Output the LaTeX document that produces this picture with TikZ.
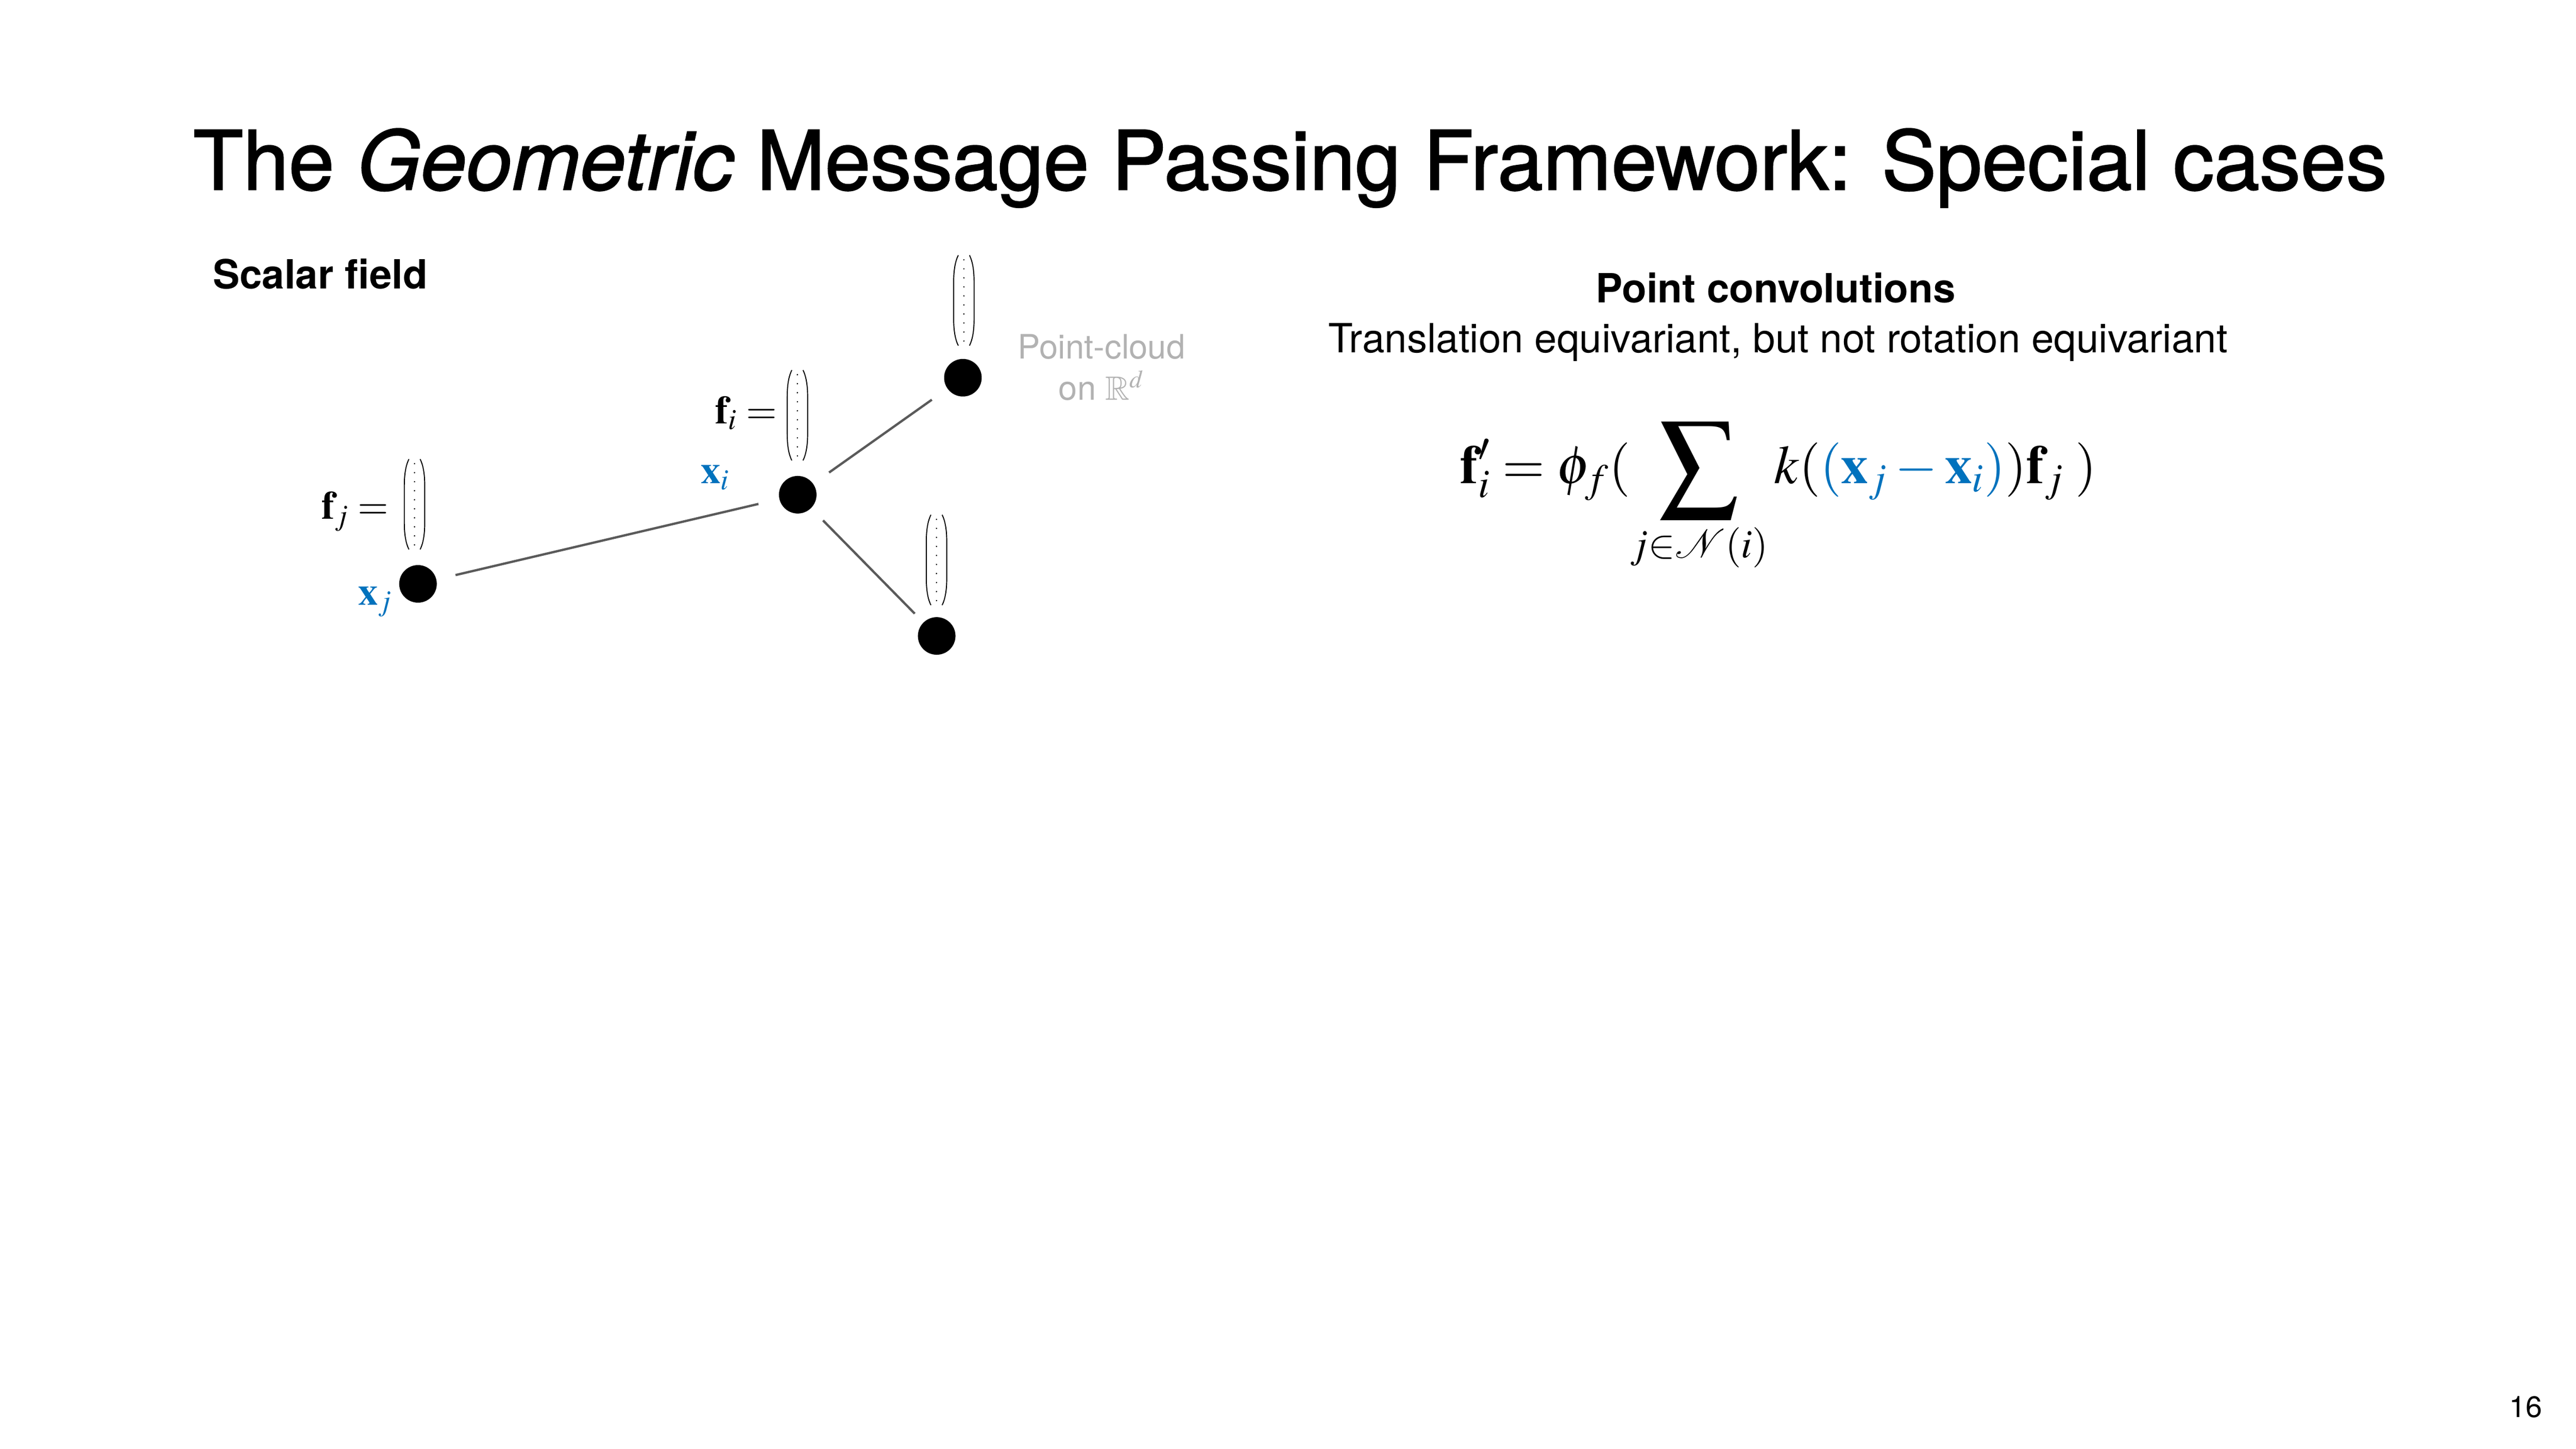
\documentclass[tikz,border=0pt]{standalone}
\usepackage{amssymb}
\usepackage{mathptmx}
\usepackage{graphicx}
\usepackage[no-math]{fontspec}
\setmainfont{TeX Gyre Heros}
\newfontfamily\titlefont{TeX Gyre Heros}[FakeBold=1.5]
\definecolor{xblue}{RGB}{0,114,189}
\definecolor{edgegray}{RGB}{90,90,90}
\definecolor{pcgray}{RGB}{178,178,178}
\newcommand{\fsz}[1]{\fontsize{#1}{#1}\selectfont}
\newcommand{\bigsum}{\mathop{\vcenter{\hbox{\scalebox{1.44}{$\displaystyle\sum$}}}}}
\begin{document}
\begin{tikzpicture}[x=1pt,y=-1pt,
  dotnode/.style={circle,fill=black,minimum size=22.8pt,inner sep=0pt},
  edge/.style={draw=edgegray,line width=1.4pt},
  lbl/.style={inner sep=0pt,font=\fsz{24}},
  vecbox/.pic={
    \draw[line width=0.6pt] (-3.4,-27.4) .. controls (-5.6,-23) and (-6.2,-17) .. (-6.2,-11) -- (-6.2,11) .. controls (-6.2,17) and (-5.6,23) .. (-3.4,27.4);
    \draw[line width=0.6pt] (3.4,-27.4) .. controls (5.6,-23) and (6.2,-17) .. (6.2,-11) -- (6.2,11) .. controls (6.2,17) and (5.6,23) .. (3.4,27.4);
    \foreach \k in {0,...,9} \fill (0,-24.65+\k*5.477) circle (0.45);
  }]
\fill[white] (0,0) rectangle (1562.9,879);
\useasboundingbox (0,0) rectangle (1562.9,879);

% title and headings
\node[anchor=base west,inner sep=0pt,font=\titlefont\fsz{49.7}] (title) at (117,115.1)
  {The \textit{Geometric} Message Passing Framework: Special cases};
\node[anchor=base west,inner sep=0pt,font=\bfseries\fsz{24.4}] (scalar) at (129,175.2) {Scalar field};
\node[anchor=base,inner sep=0pt,font=\bfseries\fsz{24.4}] (pconv) at (1077.3,183.6) {Point convolutions};
\node[anchor=base,inner sep=0pt,font=\fsz{24.4}] (transl) at (1078.7,213.8) {Translation equivariant, but not rotation equivariant};

% graph nodes
\node[dotnode] (nj) at (253.6,354.3) {};
\node[dotnode] (ni) at (484,300.2) {};
\node[dotnode] (nt) at (584.2,229.2) {};
\node[dotnode] (nb) at (568.3,385.9) {};

% edges
\draw[edge,shorten <=11.8pt,shorten >=12.9pt] (nj) -- (ni);
\draw[edge,shorten <=11.7pt,shorten >=11.5pt] (ni) -- (nt);
\draw[edge,shorten <=10.3pt,shorten >=7.4pt] (ni) -- (nb);

% feature vectors
\pic at (251.5,306) {vecbox};
\pic at (483.8,252) {vecbox};
\pic at (584.8,182.3) {vecbox};
\pic at (568.2,339.8) {vecbox};

% labels
\node[lbl,anchor=base east] (fi) at (471.5,257) {$\mathbf{f}_i =$};
\node[lbl,anchor=base east] (fj) at (235.9,315) {$\mathbf{f}_j =$};
\node[lbl,anchor=base west,text=xblue] (xi) at (425,293.5) {$\mathbf{x}_i$};
\node[lbl,anchor=base west,text=xblue] (xj) at (217.1,367.1) {$\mathbf{x}_j$};

\node[anchor=base,inner sep=0pt,font=\fsz{20.4},text=pcgray] (pc1) at (668.3,217.7) {Point-cloud};
\node[anchor=base,inner sep=0pt,font=\fsz{20.4},text=pcgray] (pc2) at (668.3,242.6) {on $\mathbb{R}^d$};

% formula
\node[anchor=base west,inner sep=0pt,font=\fsz{33}] (eq) at (885.7,293.5)
  {$\displaystyle \mathbf{f}'_i = \phi_f(\bigsum\limits_{j\in\mathcal{N}(i)} k(\textcolor{xblue}{(\mathbf{x}_j-\mathbf{x}_i)})\mathbf{f}_j\;)$};

% page number
\node[anchor=base east,inner sep=0pt,font=\fsz{18}] (pnum) at (1542.6,860.2) {16};
\end{tikzpicture}
\end{document}
